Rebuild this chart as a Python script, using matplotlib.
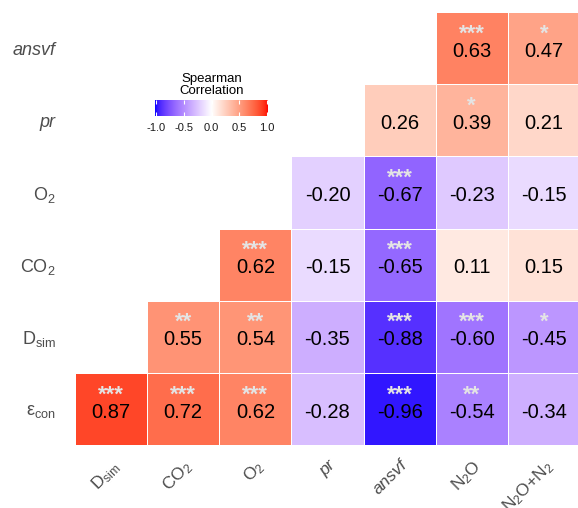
import numpy as np
import matplotlib
matplotlib.use("Agg")
import matplotlib.pyplot as plt
from matplotlib.colors import ListedColormap

plt.rcParams['font.family'] = 'Liberation Sans'
plt.rcParams['mathtext.fontset'] = 'custom'
plt.rcParams['mathtext.rm'] = 'Liberation Sans'
plt.rcParams['mathtext.it'] = 'Liberation Sans:italic'

# ----- Data -------------------------------------------------

# rows listed bottom to top
row_labels = [r'ε$_{\mathrm{con}}$', r'D$_{\mathrm{sim}}$', r'CO$_{\mathrm{2}}$',
              r'O$_{\mathrm{2}}$', 'pr', 'ansvf']
col_labels = [r'D$_{\mathrm{sim}}$', r'CO$_{\mathrm{2}}$', r'O$_{\mathrm{2}}$', 'pr', 'ansvf',
              r'N$_{\mathrm{2}}$O', r'N$_{\mathrm{2}}$O+N$_{\mathrm{2}}$']
italic_labels = ['pr', 'ansvf']

nan = np.nan
rho = np.array([
    [0.87, 0.72, 0.62, -0.28, -0.96, -0.54, -0.34],
    [nan, 0.55, 0.54, -0.35, -0.88, -0.60, -0.45],
    [nan, nan, 0.62, -0.15, -0.65, 0.11, 0.15],
    [nan, nan, nan, -0.20, -0.67, -0.23, -0.15],
    [nan, nan, nan, nan, 0.26, 0.39, 0.21],
    [nan, nan, nan, nan, nan, 0.63, 0.47],
])
stars = [
    ['***', '***', '***', '', '***', '**', ''],
    ['', '**', '**', '', '***', '***', '*'],
    ['', '', '***', '', '***', '', ''],
    ['', '', '', '', '***', '', ''],
    ['', '', '', '', '', '*', ''],
    ['', '', '', '', '', '***', '*'],
]

# ----- Blue-white-red gradient interpolated in Lab -------------

M = np.array([[0.4124, 0.3576, 0.1805],
              [0.2126, 0.7152, 0.0722],
              [0.0193, 0.1192, 0.9505]])
white_pt = np.array([0.95047, 1.0, 1.08883])

def srgb_to_lab(rgb):
    c = np.asarray(rgb, float)
    lin = np.where(c <= 0.04045, c / 12.92, ((c + 0.055) / 1.055) ** 2.4)
    xyz = M @ lin / white_pt
    f = np.where(xyz > 0.008856, np.cbrt(xyz), 7.787 * xyz + 16 / 116)
    return np.array([116 * f[1] - 16, 500 * (f[0] - f[1]), 200 * (f[1] - f[2])])

def lab_to_srgb(lab):
    L, a, b = lab
    fy = (L + 16) / 116
    f = np.array([fy + a / 500, fy, fy - b / 200])
    xyz = np.where(f ** 3 > 0.008856, f ** 3, (f - 16 / 116) / 7.787) * white_pt
    lin = np.linalg.solve(M, xyz)
    lin = np.clip(lin, 0, None)
    c = np.where(lin <= 0.0031308, 12.92 * lin, 1.055 * lin ** (1 / 2.4) - 0.055)
    return np.clip(c, 0, 1)

lab_blue = srgb_to_lab([0, 0, 1])
lab_white = srgb_to_lab([1, 1, 1])
lab_red = srgb_to_lab([1, 0, 0])
colors = []
for v in np.linspace(-1, 1, 256):
    if v < 0:
        lab = lab_white + (lab_blue - lab_white) * (-v)
    else:
        lab = lab_white + (lab_red - lab_white) * v
    colors.append(lab_to_srgb(lab))
cmap = ListedColormap(colors)

# ----- Plot -------------------------------------------------

fig = plt.figure(figsize=(5.78, 5.08), dpi=100)
ax = fig.add_axes([75 / 578, 63 / 508, 505 / 578, 433 / 508])

data = np.ma.masked_invalid(rho)
ax.pcolormesh(np.arange(8), np.arange(7), data, cmap=cmap, vmin=-1, vmax=1,
              edgecolors='white', linewidth=0.5)

for i in range(rho.shape[0]):
    for j in range(rho.shape[1]):
        if np.isnan(rho[i, j]):
            continue
        ax.text(j + 0.5, i + 0.455, '%.2f' % rho[i, j], ha='center', va='center',
                fontsize=14.5, color='black')
        if stars[i][j]:
            ax.text(j + 0.5, i + 0.62, stars[i][j], ha='center', va='baseline',
                    fontsize=16, fontweight='bold', color='#E4E4E4')

ax.set_xlim(0, 7)
ax.set_ylim(0, 6)
for s in ax.spines.values():
    s.set_visible(False)

ax.set_xticks(np.arange(7) + 0.5)
ax.set_xticklabels(col_labels, rotation=45, ha='right', va='top', rotation_mode='anchor',
                   fontsize=12.5, color='#4D4D4D')
ax.set_yticks(np.arange(6) + 0.5)
ax.set_yticklabels(row_labels, fontsize=13, color='#4D4D4D')
ax.tick_params(axis='x', length=0, pad=9)
ax.tick_params(axis='y', length=0, pad=14)
for lbl in ax.get_xticklabels() + ax.get_yticklabels():
    if lbl.get_text() in italic_labels:
        lbl.set_fontstyle('italic')

# Legend colorbar
cax = fig.add_axes([155 / 578, (508 - 116) / 508, 113 / 578, 16 / 508])
cax.imshow(np.linspace(-1, 1, 256)[None, :], cmap=cmap, aspect='auto',
           extent=[-1.02, 1.02, 0, 1])
cax.set_xlim(-1.02, 1.02)
cax.set_yticks([])
cax.set_xticks([-1.0, -0.5, 0.0, 0.5, 1.0])
cax.set_xticklabels(['-1.0', '-0.5', '0.0', '0.5', '1.0'], fontsize=8, color='#1A1A1A')
cax.tick_params(axis='x', direction='in', length=3, color='white', top=True, pad=5)
for s in cax.spines.values():
    s.set_visible(False)
fig.text(212 / 578, (508 - 85) / 508, 'Spearman\nCorrelation', ha='center', va='center',
         fontsize=9.5, color='black', linespacing=1.05)

plt.savefig('out.png', dpi=100)
